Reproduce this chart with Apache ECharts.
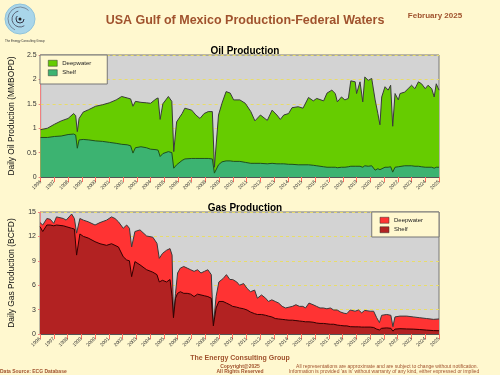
<!DOCTYPE html>
<html>
<head>
<meta charset="utf-8">
<script src="https://cdn.jsdelivr.net/npm/echarts@6/dist/echarts.min.js"></script>
<style>
  html, body { margin: 0; padding: 0; background: #FFF8CF; }
  #chart { width: 500px; height: 375px; }
</style>
</head>
<body>
<div id="chart"></div>
<script>
// oil, MMBOPD (decimal years)
const oilYears = [1996.0, 1996.5, 1997.0, 1997.5, 1998.0, 1998.4, 1998.55, 1998.67, 1998.8, 1999.1,
  1999.5, 2000.0, 2000.5, 2001.0, 2001.5, 2001.9, 2002.3, 2002.55, 2002.72, 2002.9,
  2003.3, 2003.7, 2004.0, 2004.4, 2004.55, 2004.7, 2004.9, 2005.3, 2005.55, 2005.69,
  2005.9, 2006.3, 2006.5, 2007.0, 2007.3, 2007.6, 2007.9, 2008.2, 2008.5, 2008.65,
  2008.95, 2009.2, 2009.5, 2009.8, 2010.05, 2010.5, 2010.9, 2011.3, 2011.6, 2012.0,
  2012.5, 2012.85, 2013.2, 2013.45, 2013.7, 2014.05, 2014.3, 2014.75, 2015.1, 2015.5,
  2015.85, 2016.1, 2016.6, 2016.85, 2017.2, 2017.45, 2017.6, 2017.9, 2018.15, 2018.4,
  2018.58, 2018.9, 2019.0, 2019.25, 2019.45, 2019.6, 2019.85, 2020.1, 2020.35, 2020.55,
  2020.7, 2020.83, 2021.07, 2021.3, 2021.48, 2021.63, 2021.8, 2022.04, 2022.16, 2022.5,
  2022.75, 2023.0, 2023.25, 2023.5, 2023.73, 2024.0, 2024.2, 2024.47, 2024.65, 2024.8, 2025.0];
// top of the stack (deepwater + shelf)
const oilTotal = [0.97, 1.00, 1.08, 1.15, 1.20, 1.30, 1.26, 0.93, 1.20, 1.33,
  1.38, 1.45, 1.48, 1.52, 1.58, 1.65, 1.62, 1.60, 1.45, 1.55,
  1.53, 1.52, 1.51, 1.60, 1.62, 1.18, 1.50, 1.65, 1.55, 0.52,
  1.13, 1.30, 1.41, 1.37, 1.27, 1.20, 1.30, 1.34, 1.34, 0.20,
  1.27, 1.51, 1.75, 1.72, 1.58, 1.58, 1.51, 1.34, 1.15, 1.27,
  1.16, 1.37, 1.27, 1.18, 1.27, 1.30, 1.42, 1.44, 1.41, 1.63,
  1.56, 1.61, 1.56, 1.72, 1.78, 1.71, 1.54, 1.64, 1.58, 1.61,
  1.97, 1.95, 1.71, 1.95, 1.54, 2.05, 1.98, 2.02, 1.58, 1.30,
  1.07, 1.64, 1.85, 1.78, 1.88, 1.04, 1.71, 1.58, 1.71, 1.74,
  1.81, 1.88, 1.81, 1.95, 1.91, 1.81, 1.88, 1.81, 1.64, 1.91, 1.78];
const oilShelf = [0.81, 0.81, 0.83, 0.84, 0.87, 0.88, 0.86, 0.59, 0.76, 0.77,
  0.76, 0.74, 0.73, 0.71, 0.69, 0.67, 0.66, 0.64, 0.49, 0.60,
  0.62, 0.60, 0.57, 0.56, 0.55, 0.42, 0.48, 0.52, 0.50, 0.18,
  0.25, 0.34, 0.37, 0.38, 0.38, 0.38, 0.38, 0.38, 0.37, 0.08,
  0.25, 0.31, 0.33, 0.33, 0.32, 0.32, 0.30, 0.28, 0.28, 0.28,
  0.27, 0.28, 0.27, 0.27, 0.27, 0.26, 0.26, 0.25, 0.25, 0.25,
  0.24, 0.23, 0.21, 0.20, 0.20, 0.20, 0.19, 0.20, 0.20, 0.21,
  0.22, 0.22, 0.21, 0.22, 0.20, 0.23, 0.22, 0.23, 0.14, 0.17,
  0.15, 0.19, 0.20, 0.20, 0.21, 0.10, 0.20, 0.21, 0.22, 0.23,
  0.23, 0.23, 0.22, 0.22, 0.21, 0.20, 0.20, 0.20, 0.18, 0.20, 0.20];

// gas, BCFD
const gasYears = [1996.0, 1996.2, 1996.5, 1996.75, 1997.0, 1997.2, 1997.7, 1997.9, 1998.3, 1998.5,
  1998.66, 1998.9, 1999.15, 1999.5, 2000.0, 2000.36, 2000.84, 2001.2, 2001.45, 2001.7,
  2002.05, 2002.3, 2002.5, 2002.66, 2002.9, 2003.27, 2003.75, 2004.2, 2004.5, 2004.67,
  2004.9, 2005.2, 2005.45, 2005.6, 2005.7, 2005.85, 2006.0, 2006.2, 2006.45, 2006.7,
  2006.95, 2007.2, 2007.45, 2007.7, 2007.95, 2008.2, 2008.45, 2008.6, 2008.8, 2009.0,
  2009.3, 2009.55, 2009.8, 2010.0, 2010.3, 2010.5, 2010.8, 2011.05, 2011.3, 2011.6,
  2011.8, 2012.1, 2012.4, 2012.6, 2012.85, 2013.1, 2013.35, 2013.6, 2013.85, 2014.1,
  2014.35, 2014.6, 2014.85, 2015.1, 2015.3, 2015.55, 2015.85, 2016.1, 2016.35, 2016.6,
  2016.85, 2017.1, 2017.35, 2017.6, 2017.85, 2018.1, 2018.3, 2018.55, 2018.9, 2019.15,
  2019.38, 2019.6, 2020.0, 2020.25, 2020.47, 2020.67, 2020.83, 2021.2, 2021.5, 2021.65,
  2021.8, 2022.16, 2022.65, 2023.13, 2023.6, 2024.1, 2024.6, 2025.0];
const gasTotal = [13.7, 13.4, 14.2, 14.1, 13.6, 14.4, 14.2, 14.0, 14.75, 14.2,
  12.4, 14.2, 14.0, 13.8, 13.4, 13.7, 14.0, 14.4, 14.2, 13.8,
  13.0, 13.4, 13.0, 10.7, 12.6, 12.8, 12.05, 11.9, 11.15, 9.3,
  9.9, 10.3, 10.5, 9.7, 2.3, 5.0, 7.5, 8.1, 8.3, 8.1,
  7.9, 7.7, 7.9, 7.5, 7.7, 7.9, 7.3, 1.1, 4.6, 6.4,
  6.8, 7.3, 6.7, 6.7, 6.4, 6.0, 6.2, 5.6, 5.2, 5.4,
  4.4, 4.8, 4.4, 4.0, 4.2, 4.0, 3.8, 3.4, 3.2, 3.3,
  3.4, 3.6, 3.4, 3.4, 3.2, 3.8, 3.6, 3.4, 3.2, 3.2,
  3.1, 3.2, 2.95, 2.95, 2.7, 2.55, 2.5, 2.95, 2.8, 2.95,
  2.6, 2.9, 2.8, 2.8, 2.0, 1.4, 2.3, 2.4, 2.3, 0.9,
  2.1, 2.2, 2.2, 2.1, 2.0, 1.9, 1.8, 1.85];
const gasShelf = [13.2, 12.6, 13.4, 13.4, 13.3, 13.4, 13.3, 13.2, 13.0, 12.9,
  9.7, 12.3, 12.0, 11.8, 11.35, 11.1, 10.9, 11.1, 10.9, 10.7,
  9.5, 9.1, 9.0, 7.05, 8.9, 8.5, 7.9, 7.6, 7.3, 6.4,
  6.6, 6.4, 6.7, 4.6, 2.0, 4.4, 5.0, 5.2, 5.0, 5.0,
  4.9, 4.6, 4.9, 4.8, 4.7, 4.6, 4.4, 1.0, 3.2, 4.0,
  4.0, 3.8, 3.6, 3.4, 3.3, 3.2, 3.1, 2.95, 2.7, 2.5,
  2.4, 2.4, 2.3, 2.2, 2.1, 1.9, 1.85, 1.8, 1.75, 1.7,
  1.7, 1.65, 1.6, 1.55, 1.5, 1.5, 1.45, 1.35, 1.3, 1.3,
  1.25, 1.2, 1.2, 1.1, 1.05, 1.0, 1.0, 0.9, 0.88, 0.88,
  0.85, 0.85, 0.85, 0.8, 0.6, 0.5, 0.7, 0.75, 0.7, 0.35,
  0.6, 0.65, 0.62, 0.6, 0.55, 0.48, 0.42, 0.4];

const oilTicks = [0, 2.5, 0.5];  // min, max, step
const gasTicks = [0, 15, 3];

const brown = '#A0522D';
const font = 'Arial, "Liberation Sans", sans-serif';

function pairs(xs, ys) { return xs.map((x, i) => [x, ys[i]]); }

function xAxis(gridIndex) {
  return {
    type: 'value', gridIndex, min: 1996, max: 2025, interval: 1,
    axisLine: { show: true, lineStyle: { color: '#555', width: 1 } },
    axisTick: { show: true, length: 5, lineStyle: { color: '#FF6F61' } },
    axisLabel: { rotate: 45, fontSize: 5, color: '#333', fontFamily: font, margin: 4,
      formatter: v => String(v) },
    splitLine: { show: false }
  };
}
function yAxis(gridIndex, t, name) {
  return {
    type: 'value', gridIndex, min: t[0], max: t[1], interval: t[2],
    name, nameLocation: 'middle', nameGap: 24,
    nameTextStyle: { fontSize: 8.4, color: '#111', fontFamily: font },
    axisLine: { show: true, lineStyle: { color: '#F08080', width: 1 } },
    axisTick: { show: true, length: 2, lineStyle: { color: '#F08080' } },
    axisLabel: { fontSize: 7, color: '#333', fontFamily: font, margin: 4 },
    splitLine: { show: true, lineStyle: { color: '#E8DC6A', type: [3, 3], width: 1 } }
  };
}
// total drawn first, shelf painted over it -> visible band = deepwater
function area(name, idx, data, fill, line, z) {
  return {
    name, type: 'line', xAxisIndex: idx, yAxisIndex: idx, data, z,
    symbol: 'none', showSymbol: false,
    lineStyle: { color: line, width: 1 },
    areaStyle: { color: fill, opacity: 1 },
    itemStyle: { color: fill }
  };
}

const chart = echarts.init(document.getElementById('chart'), null, { renderer: 'canvas' });

chart.setOption({
  backgroundColor: '#FFF8CF',
  animation: false,
  title: [
    { text: 'USA Gulf of Mexico Production-Federal Waters', left: 240, top: 9, textAlign: 'center',
      textStyle: { fontSize: 12.5, fontWeight: 'bold', color: brown, fontFamily: font } },
    { text: 'February 2025', left: 430, top: 7, textAlign: 'center',
      textStyle: { fontSize: 8, fontWeight: 'bold', color: brown, fontFamily: font } },
    { text: 'Oil Production', left: 240, top: 41, textAlign: 'center',
      textStyle: { fontSize: 10, fontWeight: 'bold', color: '#000', fontFamily: font } },
    { text: 'Gas Production', left: 240, top: 198, textAlign: 'center',
      textStyle: { fontSize: 10, fontWeight: 'bold', color: '#000', fontFamily: font } }
  ],
  legend: [
    { left: 40, top: 55, orient: 'vertical', itemWidth: 9, itemHeight: 6, itemGap: 3,
      padding: [5, 16, 8, 8], backgroundColor: '#FFF8CF', borderColor: '#777', borderWidth: 1,
      textStyle: { fontSize: 6, color: '#222', fontFamily: font },
      data: [
        { name: 'Deepwater', icon: 'rect', itemStyle: { color: '#66CC00', borderColor: '#333', borderWidth: 0.5 } },
        { name: 'Shelf', icon: 'rect', itemStyle: { color: '#3CB371', borderColor: '#333', borderWidth: 0.5 } }
      ] },
    { right: 61, top: 212, orient: 'vertical', itemWidth: 9, itemHeight: 6, itemGap: 3,
      padding: [5, 16, 4, 8], backgroundColor: '#FFF8CF', borderColor: '#777', borderWidth: 1,
      textStyle: { fontSize: 6, color: '#222', fontFamily: font },
      data: [
        { name: 'Deepwater', icon: 'rect', itemStyle: { color: '#FF3333', borderColor: '#333', borderWidth: 0.5 } },
        { name: 'Shelf', icon: 'rect', itemStyle: { color: '#B22222', borderColor: '#333', borderWidth: 0.5 } }
      ] }
  ],
  grid: [
    { left: 40, right: 61, top: 55, height: 122, show: true, backgroundColor: '#D3D3D3',
      borderColor: '#777', borderWidth: 1 },
    { left: 40, right: 61, top: 212, height: 122, show: true, backgroundColor: '#D3D3D3',
      borderColor: '#777', borderWidth: 1 }
  ],
  xAxis: [xAxis(0), xAxis(1)],
  yAxis: [
    yAxis(0, oilTicks, 'Daily Oil Production (MMBOPD)'),
    yAxis(1, gasTicks, 'Daily Gas Production (BCFD)')
  ],
  series: [
    area('Deepwater', 0, pairs(oilYears, oilTotal), '#66CC00', '#3A3A3A', 2),
    area('Shelf', 0, pairs(oilYears, oilShelf), '#3CB371', '#1F4F1F', 3),
    area('Deepwater', 1, pairs(gasYears, gasTotal), '#FF3333', '#3A3A3A', 2),
    area('Shelf', 1, pairs(gasYears, gasShelf), '#B22222', '#300', 3)
  ],
  graphic: [
    // logo
    { type: 'circle', shape: { cx: 20, cy: 19, r: 15 }, style: { fill: '#A9D6EA', stroke: '#8FC3DB', lineWidth: 1 } },
    { type: 'arc', shape: { cx: 20, cy: 19, r: 4, startAngle: 0, endAngle: 4 }, style: { stroke: '#334', lineWidth: 1, fill: null } },
    { type: 'arc', shape: { cx: 20, cy: 19, r: 8, startAngle: 1, endAngle: 4.5 }, style: { stroke: '#445', lineWidth: 0.8, fill: null } },
    { type: 'arc', shape: { cx: 20, cy: 19, r: 12, startAngle: 2, endAngle: 5.5 }, style: { stroke: '#556', lineWidth: 0.6, fill: null } },
    { type: 'circle', shape: { cx: 20, cy: 19, r: 1.5 }, style: { fill: '#222' } },
    { type: 'text', left: 5, top: 40, style: { text: 'The Energy Consulting Group', fontSize: 3, fill: '#333', fontFamily: font } },
    // footer
    { type: 'text', x: 240, y: 355, style: { text: 'The Energy Consulting Group', fontSize: 7, fontWeight: 'bold', fill: brown, fontFamily: font, textAlign: 'center' } },
    { type: 'text', x: 240, y: 364, style: { text: 'Copyright@2025', fontSize: 5, fontWeight: 'bold', fill: brown, fontFamily: font, textAlign: 'center' } },
    { type: 'text', x: 240, y: 369, style: { text: 'All Rights Reserved', fontSize: 5, fontWeight: 'bold', fill: brown, fontFamily: font, textAlign: 'center' } },
    { type: 'text', x: 0, y: 369, style: { text: 'Data Source: ECG Database', fontSize: 5, fontWeight: 'bold', fill: brown, fontFamily: font } },
    { type: 'text', x: 387, y: 364, style: { text: 'All representations are approximate and are subject to change without notification.', fontSize: 5, fill: brown, fontFamily: font, textAlign: 'center' } },
    { type: 'text', x: 384, y: 369, style: { text: "Information is provided 'as is' without warranty of any kind, either expressed or implied", fontSize: 5, fill: brown, fontFamily: font, textAlign: 'center' } }
  ]
});
</script>
</body>
</html>
